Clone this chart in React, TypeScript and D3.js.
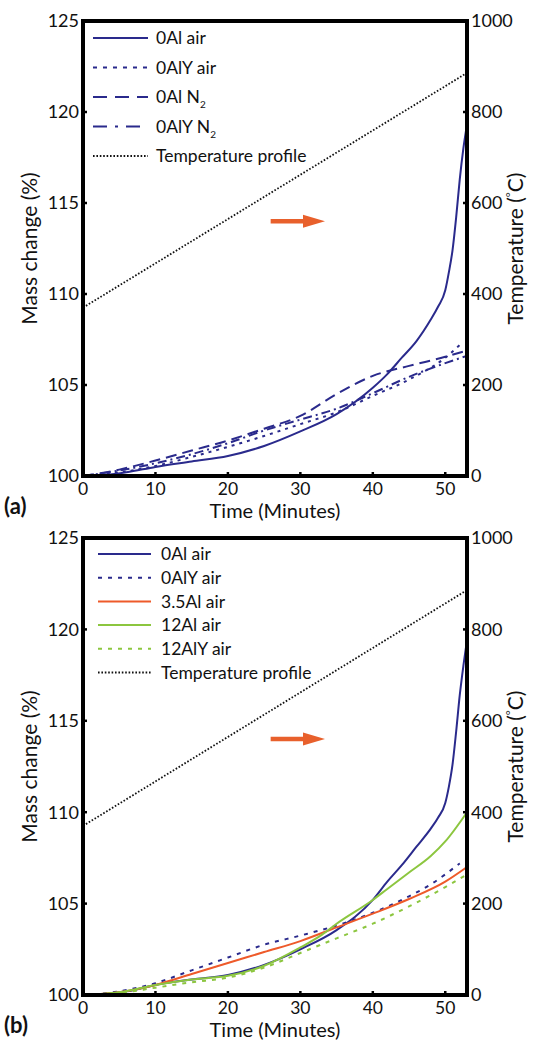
import React from 'react';
import * as d3 from 'd3';

// ---- axes / ticks ----
const timeMax = 53;
const timeTicks = [0, 10, 20, 30, 40, 50];
const massTicks = [100, 105, 110, 115, 120, 125];
const tempTicks = [0, 200, 400, 600, 800, 1000];

// temperature profile (right axis, °C)
const profileTimes = [0, 53];
const profileTemps = [370, 886];

// ---- panel (a) ----
const a0AlAirT = [0, 3, 6, 10, 15, 20, 25, 30, 35, 40, 42, 44, 46, 48, 49, 50, 50.5, 51, 51.5, 52, 52.5, 53];
const a0AlAirM = [100, 100.05, 100.2, 100.5, 100.8, 101.1, 101.65, 102.45, 103.4, 104.85, 105.6, 106.5, 107.4, 108.6, 109.3, 110.2, 111.2, 112.4, 114.2, 116.3, 118.0, 119.3];
const a0AlYAirT = [0, 5, 10, 15, 20, 25, 30, 35, 40, 45, 50, 52];
const a0AlYAirM = [100, 100.2, 100.55, 101.05, 101.6, 102.2, 102.85, 103.5, 104.4, 105.3, 106.5, 107.2];
const a0AlN2T = [0, 5, 10, 15, 20, 25, 30, 35, 40, 45, 50, 53];
const a0AlN2M = [100, 100.35, 100.85, 101.4, 101.95, 102.6, 103.3, 104.5, 105.5, 106.05, 106.55, 106.9];
const a0AlYN2T = [0, 5, 10, 15, 20, 25, 30, 35, 40, 45, 50, 53];
const a0AlYN2M = [100, 100.3, 100.7, 101.2, 101.8, 102.5, 103.1, 103.7, 104.55, 105.45, 106.2, 106.6];

// ---- panel (b) ----
const b0AlAirT = [0, 3, 6, 10, 15, 20, 25, 30, 35, 40, 42, 44, 46, 48, 49, 50, 50.5, 51, 51.5, 52, 52.5, 53];
const b0AlAirM = [100, 100.05, 100.2, 100.55, 100.85, 101.1, 101.65, 102.5, 103.55, 105.2, 106.2, 107.1, 108.1, 109.1, 109.7, 110.5, 111.4, 112.6, 114.4, 116.4, 118.0, 119.4];
const b0AlYAirT = [0, 5, 10, 15, 20, 25, 30, 35, 40, 45, 48, 50, 52];
const b0AlYAirM = [100, 100.2, 100.65, 101.35, 102.05, 102.75, 103.25, 103.8, 104.5, 105.4, 106.05, 106.6, 107.2];
const b35AlAirT = [0, 5, 10, 15, 20, 25, 30, 35, 40, 45, 50, 53];
const b35AlAirM = [100, 100.15, 100.55, 101.15, 101.75, 102.35, 102.95, 103.7, 104.45, 105.25, 106.2, 107.0];
const b12AlAirT = [0, 5, 10, 15, 20, 25, 30, 33, 35, 40, 42, 45, 48, 50, 53];
const b12AlAirM = [100, 100.15, 100.55, 100.85, 101.05, 101.6, 102.6, 103.3, 103.9, 105.2, 105.8, 106.7, 107.6, 108.4, 110.0];
const b12AlYAirT = [0, 5, 10, 15, 20, 25, 30, 35, 40, 45, 50, 53];
const b12AlYAirM = [100, 100.1, 100.4, 100.7, 100.95, 101.5, 102.3, 103.1, 103.9, 104.85, 105.9, 106.6];

const navy = '#2a2a8c';
const orange = '#ee5a2a';
const green = '#8cc63f';
const arrowColor = '#e8602c';
const font = 'Lato, "Open Sans", sans-serif';

type Series = { label: string; sub?: string; t: number[]; m: number[]; color: string; dash?: string; legendDash?: string };

const seriesA: Series[] = [
  { label: '0Al air', t: a0AlAirT, m: a0AlAirM, color: navy },
  { label: '0AlY air', t: a0AlYAirT, m: a0AlYAirM, color: navy, dash: '3,5', legendDash: '4,6' },
  { label: '0Al N', sub: '2', t: a0AlN2T, m: a0AlN2M, color: navy, dash: '11,6', legendDash: '14,8' },
  { label: '0AlY N', sub: '2', t: a0AlYN2T, m: a0AlYN2M, color: navy, dash: '9,4,2,4', legendDash: '14,8,3,8' },
];

const seriesB: Series[] = [
  { label: '0Al air', t: b0AlAirT, m: b0AlAirM, color: navy },
  { label: '0AlY air', t: b0AlYAirT, m: b0AlYAirM, color: navy, dash: '4,6', legendDash: '4,6' },
  { label: '3.5Al air', t: b35AlAirT, m: b35AlAirM, color: orange },
  { label: '12Al air', t: b12AlAirT, m: b12AlAirM, color: green },
  { label: '12AlY air', t: b12AlYAirT, m: b12AlYAirM, color: green, dash: '4,6', legendDash: '4,6' },
];

const left = 83;
const right = 467;

type PanelProps = {
  top: number;
  bottom: number;
  series: Series[];
  tag: string;
  legendY: number;
  legendStep: number;
  legendX0: number;
  legendX1: number;
  legendTextX: number;
};

const Panel = ({ top, bottom, series, tag, legendY, legendStep, legendX0, legendX1, legendTextX }: PanelProps) => {
  const x = d3.scaleLinear().domain([0, timeMax]).range([left, right]);
  const y = d3.scaleLinear().domain([100, 125]).range([bottom, top]);
  const yT = d3.scaleLinear().domain([0, 1000]).range([bottom, top]);

  const line = d3
    .line<[number, number]>()
    .x((d) => x(d[0]))
    .y((d) => y(d[1]))
    .curve(d3.curveMonotoneX);

  const profile = d3
    .line<[number, number]>()
    .x((d) => x(d[0]))
    .y((d) => yT(d[1]));

  const midY = (top + bottom) / 2;
  const arrowY = yT(560);
  const ax0 = x(25.9);
  const ax1 = x(33.4);

  const legendRows = [...series.map((s) => s.label), 'Temperature profile'];

  return (
    <g>
      {/* curves */}
      <path
        d={profile(profileTimes.map((t, i) => [t, profileTemps[i]] as [number, number])) || ''}
        fill="none"
        stroke="#111"
        strokeWidth={1.8}
        strokeDasharray="1.6,1.8"
      />
      {series.map((s) => (
        <path
          key={s.label + (s.sub || '')}
          d={line(s.t.map((t, i) => [t, s.m[i]] as [number, number])) || ''}
          fill="none"
          stroke={s.color}
          strokeWidth={2}
          strokeDasharray={s.dash}
        />
      ))}

      {/* arrow */}
      <line x1={ax0} x2={ax1 - 20} y1={arrowY} y2={arrowY} stroke={arrowColor} strokeWidth={4.5} />
      <path d={`M${ax1 - 22},${arrowY - 6.5} L${ax1},${arrowY} L${ax1 - 22},${arrowY + 6.5} Z`} fill={arrowColor} />

      {/* frame */}
      <rect x={left} y={top} width={right - left} height={bottom - top} fill="none" stroke="#000" strokeWidth={4} />

      {/* ticks */}
      {massTicks.map((v) => (
        <g key={'m' + v}>
          <line x1={left} x2={left + 4} y1={y(v)} y2={y(v)} stroke="#000" strokeWidth={2.5} />
          <text x={79} y={y(v)} dy="0.36em" textAnchor="end" fontSize={18} fontFamily={font} fill="#111">
            {v}
          </text>
        </g>
      ))}
      {tempTicks.map((v) => (
        <g key={'t' + v}>
          <line x1={right - 4} x2={right} y1={yT(v)} y2={yT(v)} stroke="#000" strokeWidth={2.5} />
          <text x={471} y={yT(v)} dy="0.36em" textAnchor="start" fontSize={18} fontFamily={font} fill="#111">
            {v}
          </text>
        </g>
      ))}
      {timeTicks.map((v) => (
        <g key={'x' + v}>
          <line x1={x(v)} x2={x(v)} y1={bottom} y2={bottom - 4} stroke="#000" strokeWidth={2.5} />
          <text x={x(v)} y={bottom + 19} textAnchor="middle" fontSize={17.5} fontFamily={font} fill="#111">
            {v}
          </text>
        </g>
      ))}

      {/* axis titles */}
      <text
        transform={`translate(37,${midY}) rotate(-90)`}
        textAnchor="middle"
        fontSize={21}
        fontFamily={font}
        fill="#111"
      >
        Mass change (%)
      </text>
      <text
        transform={`translate(523,${midY}) rotate(-90)`}
        textAnchor="middle"
        fontSize={21}
        fontFamily={font}
        fill="#111"
      >
        Temperature (
        <tspan fontSize={12} dy={-8}>°</tspan>
        <tspan dy={8}>C)</tspan>
      </text>
      <text x={(left + right) / 2} y={bottom + 42} textAnchor="middle" fontSize={20} fontFamily={font} fill="#111">
        Time (Minutes)
      </text>
      <text x={4} y={bottom + 38} fontSize={22} fontWeight="bold" fontFamily={font} fill="#111">
        {tag}
      </text>

      {/* legend */}
      {legendRows.map((label, i) => {
        const ly = legendY + i * legendStep;
        const s = series[i];
        return (
          <g key={'lg' + i}>
            {s ? (
              <line x1={legendX0} x2={legendX1} y1={ly} y2={ly} stroke={s.color} strokeWidth={2} strokeDasharray={s.legendDash} />
            ) : (
              <line x1={legendX0} x2={legendX1} y1={ly} y2={ly} stroke="#111" strokeWidth={1.8} strokeDasharray="1.6,1.8" />
            )}
            <text x={legendTextX} y={ly} dy="0.36em" fontSize={17.5} fontFamily={font} fill="#111">
              {label}
              {s && s.sub ? (
                <tspan fontSize={10} dy={5}>
                  {s.sub}
                </tspan>
              ) : null}
            </text>
          </g>
        );
      })}
    </g>
  );
};

export default function App() {
  return (
    <svg width={533} height={1041} style={{ position: 'absolute', left: 0, top: 0, background: '#fff' }}>
      <rect width={533} height={1041} fill="#fff" />
      <Panel
        top={21}
        bottom={476}
        series={seriesA}
        tag="(a)"
        legendY={38}
        legendStep={29.5}
        legendX0={93}
        legendX1={148}
        legendTextX={156}
      />
      <Panel
        top={538}
        bottom={995}
        series={seriesB}
        tag="(b)"
        legendY={554}
        legendStep={23.7}
        legendX0={98}
        legendX1={151}
        legendTextX={161}
      />
    </svg>
  );
}
